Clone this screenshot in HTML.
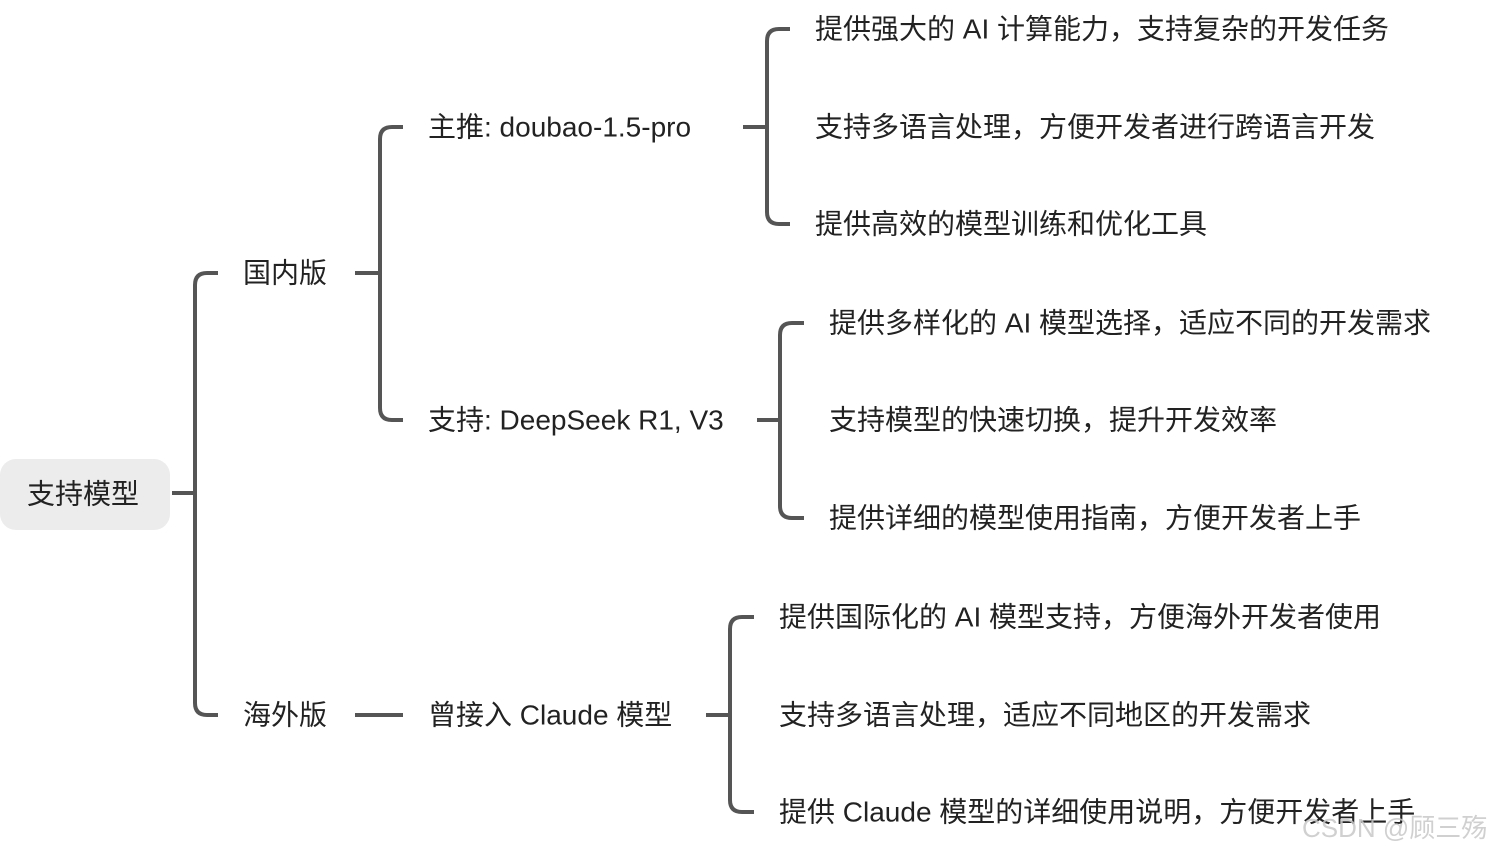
<!DOCTYPE html>
<html><head><meta charset="utf-8"><style>
html,body{margin:0;padding:0;background:#fff;width:1498px;height:854px;overflow:hidden}
text{font-family:"Liberation Sans","Noto Sans CJK SC",sans-serif;font-size:28px;fill:#222;dominant-baseline:central}
</style></head><body>
<svg width="1498" height="854" xmlns="http://www.w3.org/2000/svg">
<rect x="0" y="459" width="170" height="71" rx="16" fill="#ececec"/>
<text x="27" y="494">支持模型</text>
<g fill="none" stroke="#555" stroke-width="4">
<path d="M172 493H195"/>
<path d="M218 273H207Q195 273 195 285V703Q195 715 207 715H218"/>
<path d="M355 273H380"/>
<path d="M403 127H392Q380 127 380 139V408Q380 420 392 420H403"/>
<path d="M355 715H403"/>
<path d="M743 127H767"/>
<path d="M790 29H779Q767 29 767 41V212Q767 224 779 224H790"/>
<path d="M757 420H780"/>
<path d="M804 323H792Q780 323 780 335V506Q780 518 792 518H804"/>
<path d="M706 715H730"/>
<path d="M754 617H742Q730 617 730 629V800Q730 812 742 812H754"/>
</g>
<text x="243" y="273">国内版</text>
<text x="243" y="715">海外版</text>
<text x="428" y="127">主推: doubao-1.5-pro</text>
<text x="428" y="420">支持: DeepSeek R1, V3</text>
<text x="428" y="715">曾接入 Claude 模型</text>
<text x="815" y="29">提供强大的 AI 计算能力，支持复杂的开发任务</text>
<text x="815" y="127">支持多语言处理，方便开发者进行跨语言开发</text>
<text x="815" y="224">提供高效的模型训练和优化工具</text>
<text x="829" y="323">提供多样化的 AI 模型选择，适应不同的开发需求</text>
<text x="829" y="420">支持模型的快速切换，提升开发效率</text>
<text x="829" y="518">提供详细的模型使用指南，方便开发者上手</text>
<text x="779" y="617">提供国际化的 AI 模型支持，方便海外开发者使用</text>
<text x="779" y="715">支持多语言处理，适应不同地区的开发需求</text>
<text x="779" y="812">提供 Claude 模型的详细使用说明，方便开发者上手</text>
<text x="1302" y="828" style="font-size:26px;fill:#c8c8c8;fill-opacity:0.85">CSDN @顾三殇</text>
</svg>
</body></html>
